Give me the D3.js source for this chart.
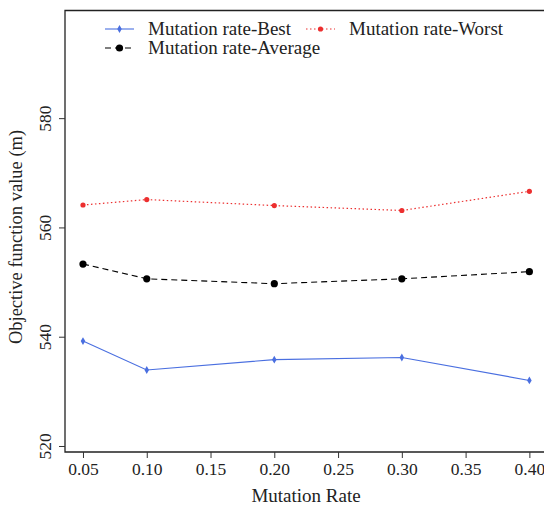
<!DOCTYPE html>
<html>
<head>
<meta charset="utf-8">
<script src="https://cdn.jsdelivr.net/npm/d3@7"></script>
<style>
  html, body { margin: 0; padding: 0; background: #fff; }
  svg { display: block; }
</style>
</head>
<body>
<svg id="chart" width="544" height="507"></svg>
<script>
// Mutation rates tested
const rates = [0.05, 0.10, 0.20, 0.30, 0.40];
// Objective function value (m) for each rate
const bestValues = [539.2, 533.9, 535.8, 536.2, 532.0];
const worstValues = [564.1, 565.1, 564.0, 563.1, 566.6];
const averageValues = [553.3, 550.6, 549.7, 550.6, 551.9];
// Axis ticks
const xTicks = [0.05, 0.10, 0.15, 0.20, 0.25, 0.30, 0.35, 0.40];
const yTicks = [520, 540, 560, 580];
const seriesNames = ["Mutation rate-Best", "Mutation rate-Worst", "Mutation rate-Average"];

const FONT = "'Liberation Serif', 'DejaVu Serif', serif";
const svg = d3.select("#chart");
const plotLeft = 65, plotRight = 548, plotTop = 10.5, plotBottom = 452;

const x = d3.scaleLinear().domain([0.0359, 0.4146]).range([plotLeft, plotRight]);
const y = d3.scaleLinear().domain([518.9, 599.7]).range([plotBottom, plotTop]);

function styleText(sel, size) {
  return sel.style("font-family", FONT).style("font-size", size).style("fill", "#222");
}

// frame: left, top and bottom edges
svg.append("path")
  .attr("d", `M${plotRight},${plotTop}H${plotLeft}V${plotBottom}H${plotRight}`)
  .attr("fill", "none").attr("stroke", "#222").attr("stroke-width", 1.3);

// x axis
const xAxis = svg.append("g").attr("transform", `translate(0,${plotBottom})`)
  .call(d3.axisBottom(x).tickValues(xTicks).tickFormat(d3.format(".2f")).tickSize(6).tickPadding(5));
xAxis.select(".domain").remove();
xAxis.selectAll("line").attr("stroke", "#333").attr("stroke-width", 1);
styleText(xAxis.selectAll("text"), "17.5px");

// y axis with rotated tick labels
const yAxis = svg.append("g").attr("transform", `translate(${plotLeft},0)`)
  .call(d3.axisLeft(y).tickValues(yTicks).tickFormat(d3.format("d")).tickSize(6));
yAxis.select(".domain").remove();
yAxis.selectAll("line").attr("stroke", "#333").attr("stroke-width", 1);
styleText(yAxis.selectAll("text")
  .attr("x", null).attr("dy", null)
  .attr("text-anchor", "middle")
  .attr("transform", "translate(-14,0) rotate(-90)"), "17.5px");

// axis titles
styleText(svg.append("text").attr("x", 306).attr("y", 502).attr("text-anchor", "middle")
  .text("Mutation Rate"), "19px");
styleText(svg.append("text").attr("transform", "translate(22,237) rotate(-90)").attr("text-anchor", "middle")
  .text("Objective function value (m)"), "18.5px");

const line = d3.line().x(d => x(d[0])).y(d => y(d[1]));
const diamond = d3.symbol().type(d3.symbolDiamond).size(18);

const series = [
  { name: seriesNames[0], values: bestValues, color: "#4a6fe0", dash: null, width: 1.1, marker: "diamond", r: 0 },
  { name: seriesNames[1], values: worstValues, color: "#ec2f2f", dash: "1.5,2.5", width: 1.2, marker: "circle", r: 2.6 },
  { name: seriesNames[2], values: averageValues, color: "#000", dash: "6,4", width: 1.1, marker: "circle", r: 3.6 }
];

series.forEach(s => {
  const pts = rates.map((r, i) => [r, s.values[i]]);
  svg.append("path").datum(pts).attr("d", line)
    .attr("fill", "none").attr("stroke", s.color).attr("stroke-width", s.width)
    .attr("stroke-dasharray", s.dash);
  const g = svg.append("g");
  pts.forEach(p => {
    if (s.marker === "diamond") {
      g.append("path").attr("d", diamond).attr("fill", s.color)
        .attr("transform", `translate(${x(p[0])},${y(p[1])})`);
    } else {
      g.append("circle").attr("cx", x(p[0])).attr("cy", y(p[1])).attr("r", s.r).attr("fill", s.color);
    }
  });
});

// legend
const legendPos = [[105, 29], [306, 29], [105, 48]];
series.forEach((s, i) => {
  const [lx, ly] = legendPos[i];
  const g = svg.append("g").attr("transform", `translate(${lx},${ly})`);
  g.append("line").attr("x1", 0).attr("x2", 29).attr("y1", 0).attr("y2", 0)
    .attr("stroke", s.color).attr("stroke-width", s.width).attr("stroke-dasharray", s.dash);
  if (s.marker === "diamond") {
    g.append("path").attr("d", diamond).attr("fill", s.color).attr("transform", "translate(14.5,0)");
  } else {
    g.append("circle").attr("cx", 14.5).attr("cy", 0).attr("r", s.r).attr("fill", s.color);
  }
  styleText(g.append("text").attr("x", 43).attr("y", 6).text(s.name), "19px");
});
</script>
</body>
</html>
